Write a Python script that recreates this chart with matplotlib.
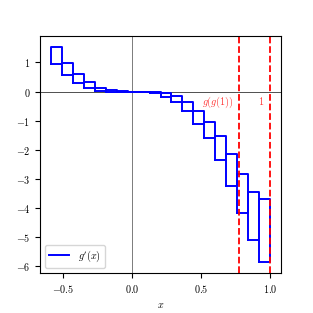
import matplotlib
matplotlib.use("Agg")
import matplotlib.pyplot as plt

plt.rcParams['font.family'] = 'serif'
plt.rcParams['font.serif'] = ['cmr10']
plt.rcParams['mathtext.fontset'] = 'cm'
plt.rcParams['axes.formatter.use_mathtext'] = True
plt.rcParams['font.size'] = 7.3

# sub-interval edges of [g(1), 1]
edges = [-0.590, -0.511, -0.431, -0.352, -0.272, -0.193, -0.113, -0.034,
         0.046, 0.125, 0.205, 0.284, 0.364, 0.443, 0.523, 0.603, 0.682,
         0.762, 0.841, 0.921, 1.000]
# enclosure of g'(x) on each sub-interval
dg_lo = [0.95, 0.58, 0.31, 0.11, 0.02, 0.0, -0.003, -0.003, -0.01, -0.06,
         -0.18, -0.37, -0.67, -1.10, -1.60, -2.36, -3.23, -4.17, -5.09, -5.87]
dg_hi = [1.54, 0.98, 0.61, 0.32, 0.12, 0.05, 0.01, 0.003, 0.0, -0.01,
         -0.06, -0.16, -0.35, -0.65, -1.03, -1.54, -2.15, -2.82, -3.46, -3.70]
ggone = 0.777
one = 1.0

fig, ax = plt.subplots(figsize=(3.13, 3.13), dpi=100)
fig.subplots_adjust(left=0.128, right=0.898, top=0.885, bottom=0.127)

ax.axhline(0, color='k', lw=0.6, alpha=0.8)
ax.axvline(0, color='k', lw=0.6, alpha=0.6)

for i in range(len(dg_lo)):
    a, b = edges[i], edges[i + 1]
    lo, hi = dg_lo[i], dg_hi[i]
    ax.plot([a, b, b, a, a], [lo, lo, hi, hi, lo], color='b', lw=1.4,
            label="$g'(x)$" if i == 0 else None)

ax.axvline(ggone, color='r', ls='--', lw=1.3)
ax.axvline(one, color='r', ls='--', lw=1.3)
ax.text(ggone - 0.04, -0.12, '$g(g(1))$', color='r', alpha=0.8,
        ha='right', va='top')
ax.text(one - 0.04, -0.12, '$1$', color='r', alpha=0.8,
        ha='right', va='top')

ax.set_xticks([-0.5, 0.0, 0.5, 1.0])
ax.set_yticks([-6, -5, -4, -3, -2, -1, 0, 1])
ax.set_xlabel('$x$')
ax.legend(loc='lower left')

fig.savefig('out.png', dpi=100)
